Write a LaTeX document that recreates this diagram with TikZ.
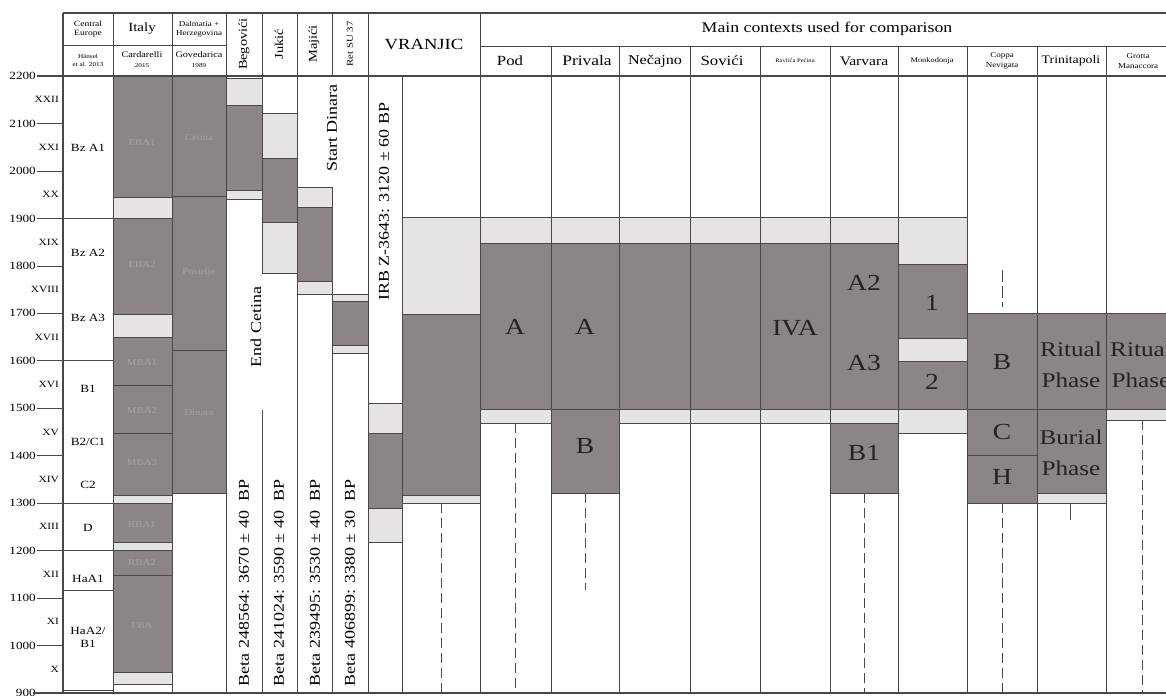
\documentclass[tikz,border=0pt]{standalone}
\usepackage{fontspec}
\setmainfont{Liberation Serif}[FakeStretch=1.2]
\definecolor{dkc}{RGB}{139,133,135}
\definecolor{ltc}{RGB}{229,227,228}
\definecolor{lnc}{RGB}{72,72,72}
\definecolor{fntc}{RGB}{168,162,164}
\definecolor{txc}{RGB}{35,35,35}
\newcommand{\myfs}[2]{\fontsize{#1}{#2}\selectfont}
\tikzset{
  dk/.style={fill=dkc, draw=lnc, line width=0.5pt},
  lt/.style={fill=ltc, draw=lnc, line width=0.5pt},
  gridln/.style={draw=lnc, line width=0.7pt},
  frameln/.style={draw=lnc, line width=1.1pt},
  dsh/.style={draw=lnc, line width=1pt, dash pattern=on 10pt off 5pt},
  faint/.style={text=fntc, font=\myfs{9}{10}, inner sep=0pt},
  big/.style={text=txc, font=\myfs{23}{26}, align=center, inner sep=0pt},
  phase/.style={text=txc, font=\myfs{21}{31}, align=center, inner sep=0pt},
  hdr/.style={text=black, align=center, inner sep=0pt},
  yrlab/.style={anchor=east, inner sep=1pt, font=\myfs{11}{12}},
  romlab/.style={anchor=east, inner sep=0pt, font=\myfs{9.5}{11}},
  celab/.style={inner sep=0pt, font=\myfs{11}{12}, align=center},
  rottxt/.style={rotate=90, inner sep=0pt, font=\myfs{15}{17}},
}
\begin{document}
\begin{tikzpicture}[x=1pt,y=1pt]
\useasboundingbox (0,0) rectangle (1166,-697);
\fill[white] (0,0) rectangle (1166,-697);

% ================= BODY (y in years) =================
\begin{scope}[y=0.4746pt, yshift=-1120.12pt]
  % Italy
  \path[dk] (113,2200) rectangle (172,1945);
  \path[lt] (113,1945) rectangle (172,1900);
  \path[dk] (113,1900) rectangle (172,1698);
  \path[lt] (113,1698) rectangle (172,1650);
  \path[dk] (113,1650) rectangle (172,1549);
  \path[dk] (113,1549) rectangle (172,1448);
  \path[dk] (113,1448) rectangle (172,1317);
  \path[lt] (113,1317) rectangle (172,1300);
  \path[dk] (113,1300) rectangle (172,1218);
  \path[lt] (113,1218) rectangle (172,1200);
  \path[dk] (113,1200) rectangle (172,1149);
  \path[dk] (113,1149) rectangle (172,944);
  \path[lt] (113,944) rectangle (172,919);
  % Dalmatia
  \path[dk] (172,2200) rectangle (226,1947);
  \path[dk] (172,1947) rectangle (226,1623);
  \path[dk] (172,1623) rectangle (226,1321);
  % Begovici
  \path[lt] (226,2195) rectangle (262,2139);
  \path[dk] (226,2139) rectangle (262,1960);
  \path[lt] (226,1960) rectangle (262,1941);
  % Jukic
  \path[lt] (262,2122) rectangle (297,2027);
  \path[dk] (262,2027) rectangle (297,1892);
  \path[lt] (262,1892) rectangle (297,1785);
  % Majici
  \path[lt] (297,1966) rectangle (332,1924);
  \path[dk] (297,1924) rectangle (332,1768);
  \path[lt] (297,1768) rectangle (332,1741);
  % Ret SU 37
  \path[lt] (332,1741) rectangle (368,1726);
  \path[dk] (332,1726) rectangle (368,1633);
  \path[lt] (332,1633) rectangle (368,1616);
  % VRANJIC left
  \path[lt] (368,1511) rectangle (402,1448);
  \path[dk] (368,1448) rectangle (402,1290);
  \path[lt] (368,1290) rectangle (402,1218);
  % VRANJIC right
  \path[lt] (402,1903) rectangle (480,1699);
  \path[dk] (402,1699) rectangle (480,1317);
  \path[lt] (402,1317) rectangle (480,1300);
  % Pod .. Varvara common
  \path[lt] (480,1903) rectangle (898,1848);
  \path[dk] (480,1848) rectangle (898,1498);
  \path[lt] (480,1498) rectangle (551,1469);
  \path[lt] (619,1498) rectangle (830,1469);
  % Privala B
  \path[dk] (551,1498) rectangle (619,1321);
  % Varvara
  \path[lt] (830,1498) rectangle (898,1469);
  \path[dk] (830,1469) rectangle (898,1321);
  % Monkodonja
  \path[lt] (898,1903) rectangle (967,1804);
  \path[dk] (898,1804) rectangle (967,1648);
  \path[lt] (898,1648) rectangle (967,1600);
  \path[dk] (898,1600) rectangle (967,1498);
  \path[lt] (898,1498) rectangle (967,1448);
  % Coppa Nevigata
  \path[dk] (967,1700) rectangle (1037,1498);
  \path[dk] (967,1498) rectangle (1037,1401);
  \path[dk] (967,1401) rectangle (1037,1300);
  % Trinitapoli
  \path[dk] (1037,1700) rectangle (1106,1498);
  \path[dk] (1037,1498) rectangle (1106,1321);
  \path[lt] (1037,1321) rectangle (1106,1300);
  % Grotta Manaccora
  \path[dk] (1106,1700) rectangle (1180,1498);
  \path[lt] (1106,1498) rectangle (1180,1475);

  % ticks
  \foreach \yy in {2100,2000,1800,1700,1500,1400,1100,1000}
    \draw[gridln] (37,\yy) -- (63,\yy);
  \foreach \yy in {1900,1600,1300,1200}
    \draw[gridln] (37,\yy) -- (113,\yy);
  \draw[gridln] (63,1117) -- (113,1117);
  \draw[gridln] (63,906) -- (113,906);

  % dashed / tick connectors
  \coordinate (vrT) at (441,1300); \coordinate (vrB) at (441,900);
  \coordinate (podT) at (515,1469); \coordinate (podB) at (515,900);
  \coordinate (prT) at (585,1321); \coordinate (prB) at (585,1117);
  \coordinate (vaT) at (864,1321); \coordinate (vaB) at (864,900);
  \coordinate (cpaT) at (1002,1791); \coordinate (cpaB) at (1002,1713);
  \coordinate (cpT) at (1002,1300); \coordinate (cpB) at (1002,900);
  \coordinate (trT) at (1070,1300); \coordinate (trB) at (1070,1264);
  \coordinate (grT) at (1142,1475); \coordinate (grB) at (1142,900);
  \draw[dsh] (vrT) -- (vrB);
  \draw[dsh] (podT) -- (podB);
  \draw[dsh] (prT) -- (prB);
  \draw[dsh] (vaT) -- (vaB);
  \draw[dsh, dash pattern=on 12pt off 4pt] (cpaT) -- (cpaB);
  \draw[dsh] (cpT) -- (cpB);
  \draw[gridln, line width=1pt] (trT) -- (trB);
  \draw[dsh] (grT) -- (grB);

  % year labels
  \foreach \yy in {2200,2100,...,900}
    \node[yrlab] (y\yy) at (37,\yy) {\yy};
  % roman numerals
  \node[romlab] (rXXII) at (59,2150) {XXII};
  \node[romlab] (rXXI) at (59,2050) {XXI};
  \node[romlab] (rXX) at (59,1950) {XX};
  \node[romlab] (rXIX) at (59,1850) {XIX};
  \node[romlab] (rXVIII) at (59,1750) {XVIII};
  \node[romlab] (rXVII) at (59,1650) {XVII};
  \node[romlab] (rXVI) at (59,1550) {XVI};
  \node[romlab] (rXV) at (59,1450) {XV};
  \node[romlab] (rXIV) at (59,1350) {XIV};
  \node[romlab] (rXIII) at (59,1250) {XIII};
  \node[romlab] (rXII) at (59,1150) {XII};
  \node[romlab] (rXI) at (59,1050) {XI};
  \node[romlab] (rX) at (59,950) {X};
  % central europe
  \node[celab] (ceA1) at (88,2048) {Bz A1};
  \node[celab] (ceA2) at (88,1827) {Bz A2};
  \node[celab] (ceA3) at (88,1690) {Bz A3};
  \node[celab] (ceB1) at (88,1540) {B1};
  \node[celab] (ceB2) at (88,1429) {B2/C1};
  \node[celab] (ceC2) at (88,1338) {C2};
  \node[celab] (ceD) at (88,1248) {D};
  \node[celab] (ceHa1) at (88,1140) {HaA1};
  \node[celab, font=\myfs{11}{13}] (ceHa2) at (88,1018) {HaA2/\\B1};
  % Italy faint labels
  \node[faint] (itE1) at (142,2059) {EBA1};
  \node[faint] (itE2) at (142,1802) {EBA2};
  \node[faint] (itM1) at (142,1597) {MBA1};
  \node[faint] (itM2) at (142,1495) {MBA2};
  \node[faint] (itM3) at (142,1385) {MBA3};
  \node[faint] (itR1) at (142,1255) {RBA1};
  \node[faint] (itR2) at (142,1174) {RBA2};
  \node[faint] (itF) at (142,1043) {FBA};
  % Dalmatia faint labels
  \node[faint] (daC) at (199,2071) {Cetina};
  \node[faint] (daP) at (199,1787) {Posušje};
  \node[faint] (daD) at (199,1490) {Dinara};
  % rotated texts
  \node[rottxt] (tBeg) at (244,1132) {Beta 248564: 3670 ± 40 \ BP};
  \node[rottxt] (tJuk) at (279,1132) {Beta 241024: 3590 ± 40 \ BP};
  \node[rottxt] (tMaj) at (315,1132) {Beta 239495: 3530 ± 40 \ BP};
  \node[rottxt] (tRet) at (350,1132) {Beta 406899: 3380 ± 30 \ BP};
  \node[rottxt] (tEnd) at (256,1671) {End Cetina};
  \node[rottxt] (tStart) at (332,2090) {Start Dinara};
  \node[rottxt] (tIRB) at (384,1935) {IRB Z-3643: 3120 ± 60 BP};
  % big labels
  \node[big] (lPodA) at (515,1671) {A};
  \node[big] (lPrA) at (585,1671) {A};
  \node[big] (lPrB) at (585,1420) {B};
  \node[big] (lRavIVA) at (795,1668) {IVA};
  \node[big] (lVaA2) at (864,1764) {A2};
  \node[big] (lVaA3) at (864,1595) {A3};
  \node[big] (lVaB1) at (864,1406) {B1};
  \node[big] (lMo1) at (932,1722) {1};
  \node[big] (lMo2) at (932,1555) {2};
  \node[big] (lCoB) at (1002,1597) {B};
  \node[big] (lCoC) at (1002,1450) {C};
  \node[big] (lCoH) at (1002,1355) {H};
  \node[phase] (lTrR) at (1071,1591) {Ritual\\Phase};
  \node[phase] (lTrB) at (1071,1406) {Burial\\Phase};
  \node[phase] (lGrR) at (1141,1591) {Ritual\\Phase};
\end{scope}

% ================= GRID (pixel coords) =================
\draw[frameln] (63,-13) -- (1170,-13);
\draw[gridln] (63,-45) -- (226,-45);
\draw[gridln] (480,-46) -- (1170,-46);
\draw[frameln] (37,-76) -- (1170,-76);
\draw[frameln] (33,-693) -- (1170,-693);
\foreach \xx in {63,113,172,226,297,368,480}
  \draw[gridln] (\xx,-13) -- (\xx,-693);
\draw[frameln] (63,-13) -- (63,-693);
\draw[gridln] (402,-76) -- (402,-693);
\draw[gridln] (262,-13) -- (262,-273);
\draw[gridln] (262,-410) -- (262,-693);
\draw[gridln] (332,-13) -- (332,-76);
\draw[gridln] (332,-187) -- (332,-693);
\foreach \xx in {551,619,690,760,830,898,967,1037,1106}
  \draw[gridln] (\xx,-46) -- (\xx,-693);

% ================= HEADER TEXT =================
\node[hdr, font=\myfs{8}{9}] (hCE) at (88,-29) {Central\\Europe};
\node[hdr, font=\myfs{12.5}{14}] (hIt) at (142,-29) {Italy};
\node[hdr, font=\myfs{7.5}{9}] (hDa) at (199,-29) {Dalmatia +\\Herzegovina};
\node[hdr, font=\myfs{6}{8}] (hCEr) at (88,-60) {Hänsel\\et al. 2013};
\node[hdr, font=\myfs{8.5}{10}] (hItr) at (142,-60) {Cardarelli\\\myfs{6}{8}2015};
\node[hdr, font=\myfs{8.5}{10}] (hDar) at (199,-60) {Govedarica\\\myfs{6}{8}1989};
\node[hdr, rotate=90, font=\myfs{12}{13}] (hBeg) at (244,-44) {Begovići};
\node[hdr, rotate=90, font=\myfs{12}{13}] (hJuk) at (279,-44) {Jukić};
\node[hdr, rotate=90, font=\myfs{12}{13}] (hMaj) at (314,-44) {Majići};
\node[hdr, rotate=90, font=\myfs{9}{10}] (hRet) at (350,-44) {Ret SU 37};
\node[hdr, font=\myfs{15.5}{17}] (hVr) at (424,-44) {VRANJIC};
\node[hdr, font=\myfs{14.8}{16}] (hMain) at (827,-29) {Main contexts used for comparison};
\node[hdr, font=\myfs{14}{15}] (hPod) at (510,-61) {Pod};
\node[hdr, font=\myfs{14.5}{15}] (hPr) at (587,-61) {Privala};
\node[hdr, font=\myfs{13.5}{15}] (hNe) at (655,-61) {Nečajno};
\node[hdr, font=\myfs{14}{15}] (hSo) at (722,-61) {Sovići};
\node[hdr, font=\myfs{5.5}{7}] (hRa) at (795,-61) {Ravlića Pećina};
\node[hdr, font=\myfs{13}{15}] (hVa) at (864,-61) {Varvara};
\node[hdr, font=\myfs{7}{8}] (hMo) at (932,-61) {Monkodonja};
\node[hdr, font=\myfs{7.5}{10}] (hCo) at (1002,-61) {Coppa\\Nevigata};
\node[hdr, font=\myfs{11.5}{13}] (hTr) at (1071,-61) {Trinitapoli};
\node[hdr, font=\myfs{7.5}{10}] (hGr) at (1138,-61) {Grotta\\Manaccora};
\end{tikzpicture}
\end{document}
